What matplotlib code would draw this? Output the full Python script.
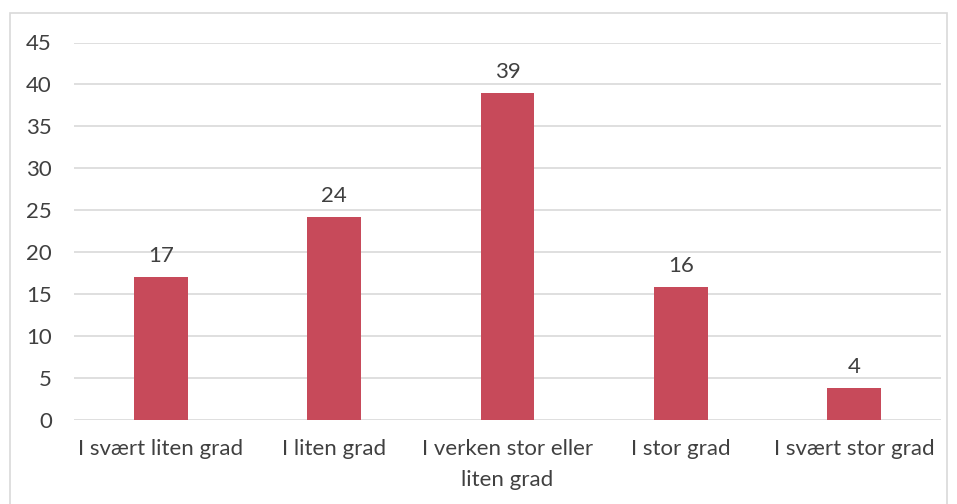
import matplotlib
matplotlib.use("Agg")
import matplotlib.pyplot as plt
from matplotlib.patches import Rectangle

categories = ["I svært liten grad", "I liten grad", "I verken stor eller\nliten grad", "I stor grad", "I svært stor grad"]
values = [17.0, 24.2, 39.0, 15.8, 3.8]
labels = ["17", "24", "39", "16", "4"]
yticks = [0, 5, 10, 15, 20, 25, 30, 35, 40, 45]

plt.rcParams['font.family'] = ['Lato', 'DejaVu Sans']
txt = '#404040'
fs = 16

fig = plt.figure(figsize=(9.57, 5.04), dpi=100)
fig.patches.append(Rectangle((10/957, -0.05), (947-10)/957, 1.05 - 13/504, transform=fig.transFigure,
                             fill=False, edgecolor='#d9d9d9', linewidth=1.2))
ax = fig.add_axes([74/957, 1-420/504, (941-74)/957, (420-42.5)/504])

x = range(len(categories))
ax.bar(x, values, width=0.31, color='#C74A5A', zorder=3)
for xi, v, lab in zip(x, values, labels):
    ax.annotate(lab, (xi, v), xytext=(0, 8), textcoords='offset points',
                ha='center', va='bottom', fontsize=fs, color=txt)

ax.set_ylim(0, 45)
ax.set_xlim(-0.5, len(categories) - 0.5)
ax.set_yticks(yticks)
ax.set_xticks(list(x))
ax.set_xticklabels(categories, fontsize=fs, color=txt, linespacing=1.65)
ax.tick_params(axis='y', labelsize=fs, labelcolor=txt, length=0, pad=16)
ax.tick_params(axis='x', length=0, pad=14)
ax.grid(axis='y', color='#d9d9d9', linewidth=1.2, zorder=0)
for s in ax.spines.values():
    s.set_visible(False)

fig.savefig("out.png", dpi=100)
